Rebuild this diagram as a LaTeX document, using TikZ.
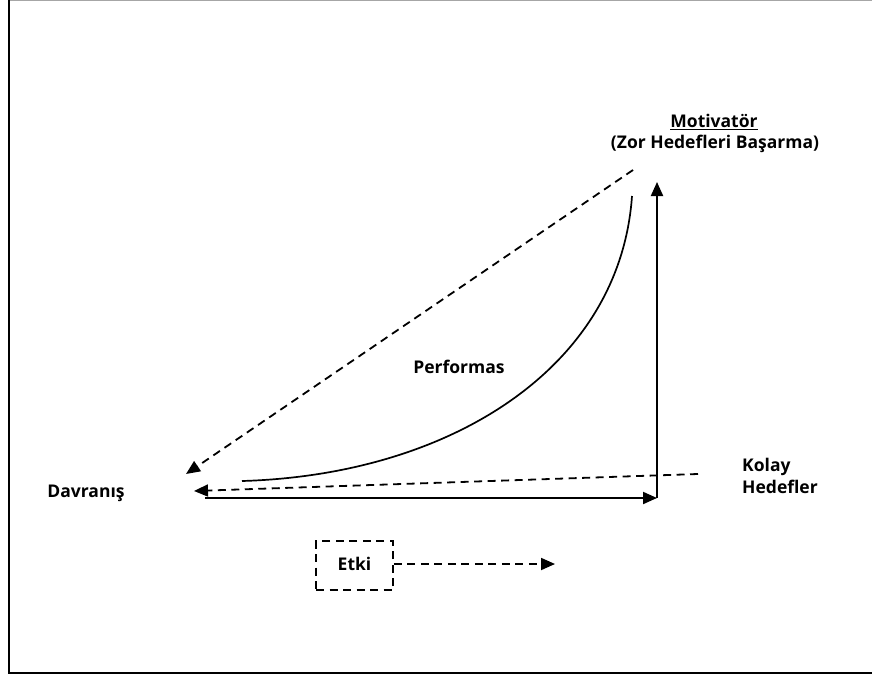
\documentclass[tikz,border=0pt]{standalone}
\usepackage{fontspec}
\setmainfont{Open Sans}
\usetikzlibrary{arrows.meta}
\begin{document}
\begin{tikzpicture}[x=1pt,y=-1pt,
  lbl/.style={font=\fontsize{17.5}{22}\selectfont\bfseries, inner sep=0pt},
  solidarrow/.style={line width=2pt, -{Triangle[length=14pt,width=12pt]}},
  dasharrow/.style={line width=1.8pt, dash pattern=on 8pt off 5.5pt, -{Triangle[length=14pt,width=12pt]}}]
  \useasboundingbox (0,0) rectangle (872,677);
  % frame
  \draw[gray!70, line width=1pt] (9,0.5) -- (872,0.5);
  \draw[line width=2.2pt] (9,0) -- (9,673) -- (872,673);

  % corner of the two axes
  \coordinate (corner) at (657,498);
  \coordinate (xstart) at (205,498);
  \coordinate (ytop) at (657,182);
  \draw[solidarrow] (xstart) -- (corner);
  \draw[solidarrow] (corner) -- (ytop);

  % dashed guides
  \coordinate (hardstart) at (633,170);
  \coordinate (hardend) at (186,474);
  \draw[dasharrow] (hardstart) -- (hardend);
  \coordinate (easystart) at (698,474);
  \coordinate (easyend) at (194,491);
  \draw[dasharrow] (easystart) -- (easyend);

  % performance curve
  \coordinate (cstart) at (242,481);
  \coordinate (cend) at (632,196);
  \draw[line width=1.7pt] (cstart) .. controls (450,475) and (620,368) .. (cend);

  % labels
  \node[lbl] (mot) at (714,122) {\underline{Motivatör}};
  \node[lbl] (zor) at (715,144) {(Zor Hedefleri Başarma)};
  \node[lbl] (perf) at (459,367) {Performas};
  \node[lbl] (davr) at (86,493) {Davranış};
  \node[lbl, anchor=west, align=left] (kolay) at (742,476) {Kolay\\Hedefler};

  % effect box
  \node[draw, line width=1.8pt, dash pattern=on 8pt off 5.5pt, minimum width=77pt,
        minimum height=49pt, font=\fontsize{17.5}{22}\selectfont\bfseries] (etki) at (354.5,565.5) {\raisebox{4pt}{Etki}};
  \coordinate (etkiend) at (555,564);
  \draw[dasharrow] (etki.east |- etkiend) -- (etkiend);
\end{tikzpicture}
\end{document}
